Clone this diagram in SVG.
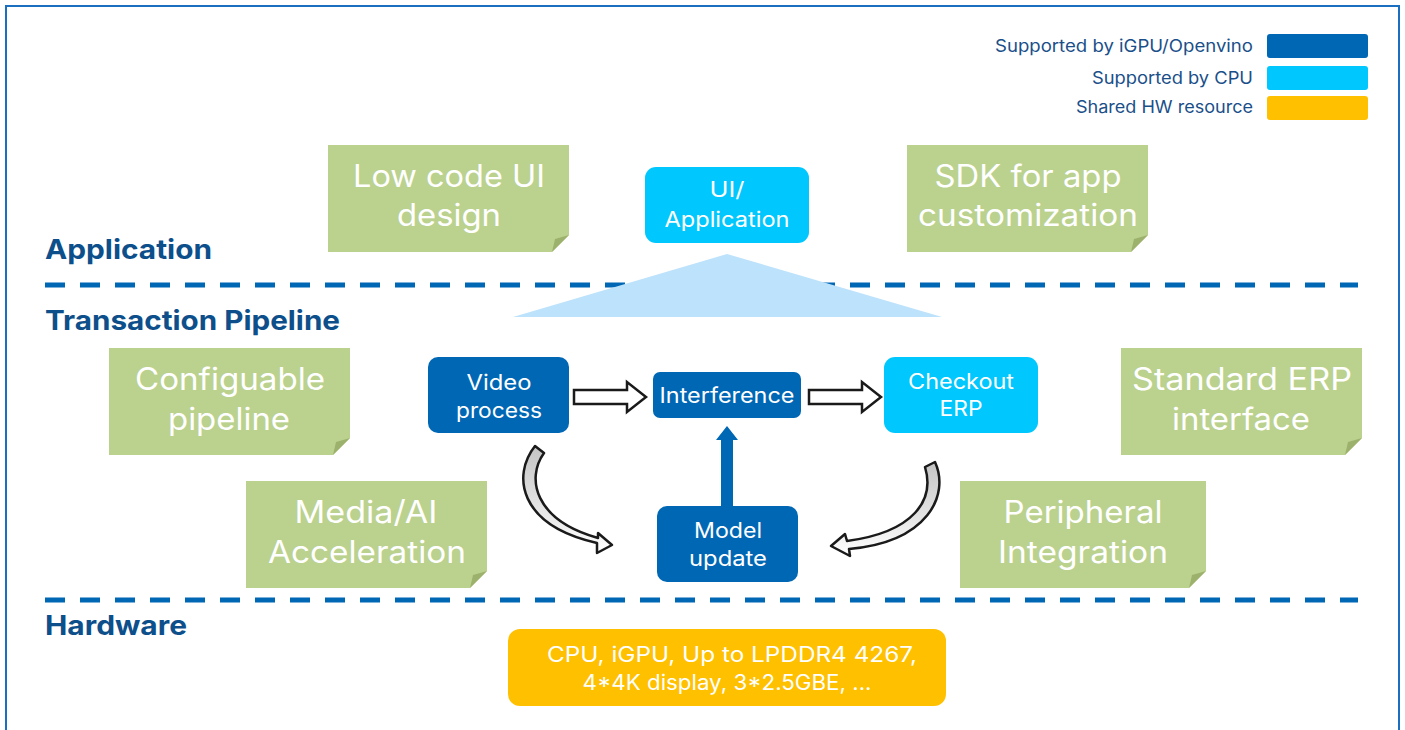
<svg xmlns="http://www.w3.org/2000/svg" width="1405" height="730" viewBox="0 0 1405 730">
<style>
.frame{fill:#fff;stroke:#1a6fc0;stroke-width:2}
.dash{stroke:#0067b5;stroke-width:5;stroke-dasharray:20 15;fill:none}
.layer{font-family:Inter,"Noto Sans",sans-serif;font-weight:700;font-size:27px;fill:#0d4f8b}
.legend{font-family:Inter,"Noto Sans",sans-serif;font-size:17px;fill:#1a4f8a;text-anchor:end}
.note{fill:#bbd18e}
.fold{fill:#9cb26c}
.notetext{font-family:Inter,"Noto Sans",sans-serif;font-size:31px;fill:#fff;text-anchor:middle}
.dark{fill:#0067b5}
.cyan{fill:#00c7fd}
.yellow{fill:#ffc000}
.boxtext{font-family:Inter,"Noto Sans",sans-serif;font-size:21px;fill:#fff;text-anchor:middle}
.hollow{fill:#fff;stroke:#1a1a1a;stroke-width:2.5;stroke-linejoin:miter}
.curve{fill:url(#cg);stroke:#1a1a1a;stroke-width:2.5;stroke-linejoin:round}
</style>
<defs>
<linearGradient id="cg" x1="0" y1="0" x2="0" y2="1">
<stop offset="0" stop-color="#c4c4c4"/>
<stop offset="0.6" stop-color="#e6e6e6"/>
<stop offset="1" stop-color="#ffffff"/>
</linearGradient>
</defs>
<rect class="frame" x="6" y="6" width="1393" height="740"/>

<g id="dividers">
<line class="dash" x1="45" y1="285" x2="1358" y2="285"/>
<line class="dash" x1="45" y1="600" x2="1358" y2="600"/>
</g>

<g id="layer-labels">
<text class="layer" x="45" y="259" textLength="167" lengthAdjust="spacingAndGlyphs">Application</text>
<text class="layer" x="45" y="330" textLength="295" lengthAdjust="spacingAndGlyphs">Transaction Pipeline</text>
<text class="layer" x="45" y="635" textLength="142" lengthAdjust="spacingAndGlyphs">Hardware</text>
</g>

<g id="legend">
<text class="legend" x="1253" y="52" textLength="258" lengthAdjust="spacingAndGlyphs">Supported by iGPU/Openvino</text>
<text class="legend" x="1253" y="84" textLength="161" lengthAdjust="spacingAndGlyphs">Supported by CPU</text>
<text class="legend" x="1253" y="113" textLength="177" lengthAdjust="spacingAndGlyphs">Shared HW resource</text>
<rect class="dark" x="1267" y="34" width="101" height="24" rx="3"/>
<rect class="cyan" x="1267" y="66" width="101" height="24" rx="3"/>
<rect class="yellow" x="1267" y="96" width="101" height="24" rx="3"/>
</g>

<g id="note-lowcode">
<polygon class="note" points="328,145 569,145 569,235 552,252 328,252"/>
<polygon class="fold" points="569,235 552,252 555,239"/>
<text class="notetext" x="449" y="187" textLength="192" lengthAdjust="spacingAndGlyphs">Low code UI</text>
<text class="notetext" x="449" y="226" textLength="104" lengthAdjust="spacingAndGlyphs">design</text>
</g>
<g id="note-sdk">
<polygon class="note" points="907,145 1148,145 1148,235 1131,252 907,252"/>
<polygon class="fold" points="1148,235 1131,252 1134,239"/>
<text class="notetext" x="1028" y="187" textLength="187" lengthAdjust="spacingAndGlyphs">SDK for app</text>
<text class="notetext" x="1028" y="226" textLength="220" lengthAdjust="spacingAndGlyphs">customization</text>
</g>
<g id="note-config">
<polygon class="note" points="109,348 350,348 350,438 333,455 109,455"/>
<polygon class="fold" points="350,438 333,455 336,442"/>
<text class="notetext" x="230" y="390" textLength="190" lengthAdjust="spacingAndGlyphs">Configuable</text>
<text class="notetext" x="229" y="430" textLength="122" lengthAdjust="spacingAndGlyphs">pipeline</text>
</g>
<g id="note-erp">
<polygon class="note" points="1121,348 1362,348 1362,438 1345,455 1121,455"/>
<polygon class="fold" points="1362,438 1345,455 1348,442"/>
<text class="notetext" x="1242" y="390" textLength="220" lengthAdjust="spacingAndGlyphs">Standard ERP</text>
<text class="notetext" x="1241" y="430" textLength="138" lengthAdjust="spacingAndGlyphs">interface</text>
</g>
<g id="note-media">
<polygon class="note" points="246,481 487,481 487,571 470,588 246,588"/>
<polygon class="fold" points="487,571 470,588 473,575"/>
<text class="notetext" x="366" y="523" textLength="143" lengthAdjust="spacingAndGlyphs">Media/AI</text>
<text class="notetext" x="367" y="563" textLength="198" lengthAdjust="spacingAndGlyphs">Acceleration</text>
</g>
<g id="note-peripheral">
<polygon class="note" points="960,481 1206,481 1206,571 1189,588 960,588"/>
<polygon class="fold" points="1206,571 1189,588 1192,575"/>
<text class="notetext" x="1083" y="523" textLength="159" lengthAdjust="spacingAndGlyphs">Peripheral</text>
<text class="notetext" x="1083" y="563" textLength="170" lengthAdjust="spacingAndGlyphs">Integration</text>
</g>

<g id="app-triangle">
<polygon fill="#bde2fb" points="727,254 513,317 942,317"/>
</g>

<g id="node-ui">
<rect class="cyan" x="645" y="167" width="164" height="76" rx="11"/>
<text class="boxtext" x="727" y="197" textLength="35" lengthAdjust="spacingAndGlyphs">UI/</text>
<text class="boxtext" x="727" y="227" textLength="125" lengthAdjust="spacingAndGlyphs">Application</text>
</g>

<g id="node-video">
<rect class="dark" x="428" y="357" width="141" height="76" rx="10"/>
<text class="boxtext" x="499" y="390" textLength="65" lengthAdjust="spacingAndGlyphs">Video</text>
<text class="boxtext" x="499" y="418" textLength="86" lengthAdjust="spacingAndGlyphs">process</text>
</g>
<g id="node-interference">
<rect class="dark" x="653" y="372" width="148" height="46" rx="7"/>
<text class="boxtext" x="727" y="403" textLength="135" lengthAdjust="spacingAndGlyphs">Interference</text>
</g>
<g id="node-checkout">
<rect class="cyan" x="884" y="357" width="154" height="76" rx="11"/>
<text class="boxtext" x="961" y="389" textLength="106" lengthAdjust="spacingAndGlyphs">Checkout</text>
<text class="boxtext" x="961" y="416" textLength="43" lengthAdjust="spacingAndGlyphs">ERP</text>
</g>
<g id="node-model">
<rect class="dark" x="657" y="506" width="141" height="76" rx="10"/>
<text class="boxtext" x="728" y="538" textLength="68" lengthAdjust="spacingAndGlyphs">Model</text>
<text class="boxtext" x="728" y="566" textLength="78" lengthAdjust="spacingAndGlyphs">update</text>
</g>
<g id="node-hardware">
<rect class="yellow" x="508" y="629" width="438" height="77" rx="12"/>
<text class="boxtext" x="732" y="662" textLength="370" lengthAdjust="spacingAndGlyphs">CPU, iGPU, Up to LPDDR4 4267,</text>
<text class="boxtext" x="727" y="690" textLength="289" lengthAdjust="spacingAndGlyphs">4*4K display, 3*2.5GBE, ...</text>
</g>

<g id="connectors">
<polygon class="hollow" points="574,390 627,390 627,382 646,397 627,412 627,404 574,404"/>
<polygon class="hollow" points="809,390 862,390 862,382 881,397 862,412 862,404 809,404"/>
<polygon class="dark" points="721,506 721,440 716,440 727,426 738,440 733,440 733,506"/>
<path class="curve" d="M 535 446 C 512 475 518 525 597 543 L 597 553 L 612 545 L 598 533 L 598 538 C 534 520 526 478 544 453 Z"/>
<path class="curve" d="M 935 462 C 950 495 928 542 849 549 L 850 556 L 831 546 L 845 534 L 847 541 C 914 532 935 500 925 467 Z"/>
</g>
</svg>
